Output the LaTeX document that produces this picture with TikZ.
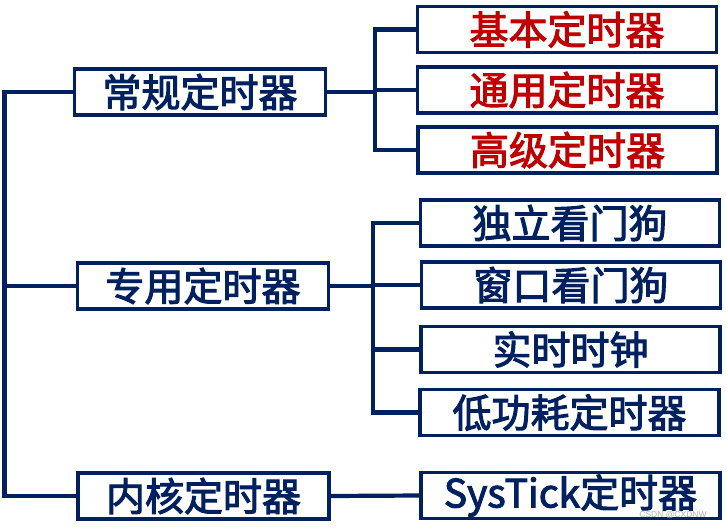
\documentclass[tikz,border=0pt]{standalone}
\usepackage{fontspec}
\newfontfamily\cjk{Noto Sans CJK SC}[FakeBold=2.6]
\newfontfamily\marksans{Liberation Sans}
\definecolor{navy}{HTML}{002060}
\definecolor{deepred}{HTML}{C00000}
\tikzset{
  box/.style={draw=navy, line width=3.6pt, fill=white, inner sep=0pt,
    font=\cjk\fontsize{39}{39}\selectfont, text=navy},
  wide/.style={box, minimum width=299pt, minimum height=46pt},
  group/.style={box, minimum width=251pt, minimum height=46pt},
  hot/.style={text=deepred},
  link/.style={draw=navy, line width=4.2pt, line cap=rect, line join=miter}
}
\begin{document}
\begin{tikzpicture}[x=1pt,y=-1pt]
\useasboundingbox (0,0) rectangle (726,528);

% first-level groups
\node[group] (g1) at (200,92) {常规定时器};
\node[group] (g2) at (203,286) {专用定时器};
\node[group] (g3) at (203.5,496) {内核定时器};

% regular timers
\node[wide, hot] (a1) at (567,29.5) {基本定时器};
\node[wide, hot] (a2) at (567,90) {通用定时器};
\node[wide, hot] (a3) at (567.5,150) {高级定时器};

% dedicated timers
\node[wide] (b1) at (570,223) {独立看门狗};
\node[wide] (b2) at (571,285) {窗口看门狗};
\node[wide] (b3) at (570.5,349.5) {实时时钟};
\node[wide] (b4) at (569.5,412.5) {低功耗定时器};

% core timer
\node[wide] (c1) at (570.5,495.5) {SysTick定时器};

% junction points of the tree
\coordinate (root) at (4.5,286);
\coordinate (aj) at (375,92);
\coordinate (bj) at (373,286);

% trunk on the left
\draw[link] (g1.west) -| (root) |- (g3.west);
\draw[link] (g2.west) -- (root);

% branch of regular timers
\draw[link] (g1.east) -- (aj);
\draw[link] (a1.west) -| (aj) |- (a3.west);
\draw[link] (a2.west) -- (a2.west -| aj);

% branch of dedicated timers
\draw[link] (g2.east) -- (bj);
\draw[link] (b1.west) -| (bj) |- (b4.west);
\draw[link] (b2.west) -- (b2.west -| bj);
\draw[link] (b3.west) -- (b3.west -| bj);

% core timer link
\draw[link] (g3.east) -- (c1.west);

% source mark
\node[text=black!30, font=\marksans\fontsize{8.5}{8.5}\selectfont] (mark) at (673,515) {CSDN @CXDNW};
\end{tikzpicture}
\end{document}
